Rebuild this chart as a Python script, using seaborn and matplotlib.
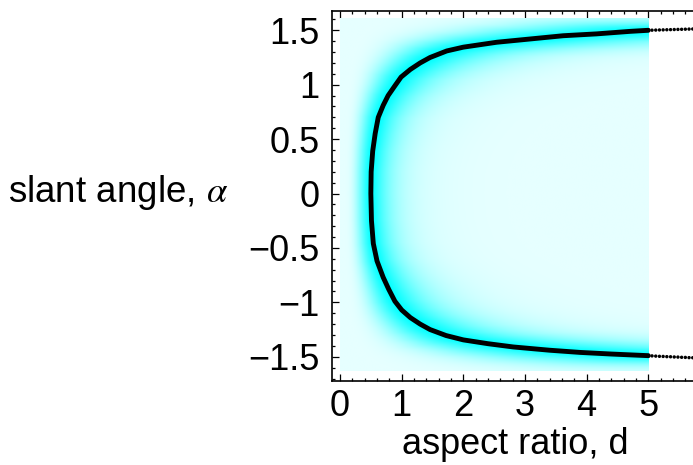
import numpy as np
import matplotlib
matplotlib.use("Agg")
import matplotlib.pyplot as plt
import seaborn as sns
from matplotlib.colors import LinearSegmentedColormap

# curve: slant angle vs aspect ratio
curve_alpha = [-1.49, -1.475, -1.46, -1.44, -1.41, -1.38, -1.345, -1.305, -1.25, -1.20,
               -1.14, -1.07, -0.99, -0.88, -0.77, -0.62, -0.46, -0.25, 0.0, 0.2,
               0.39, 0.55, 0.70, 0.81, 0.90, 0.99, 1.07, 1.14, 1.20, 1.25,
               1.31, 1.345, 1.39, 1.42, 1.45, 1.467, 1.49, 1.50]
curve_d = [5.0, 4.4, 3.89, 3.4, 2.81, 2.4, 2.0, 1.72, 1.46, 1.30,
           1.14, 1.0, 0.89, 0.79, 0.70, 0.60, 0.54, 0.51, 0.50, 0.505,
           0.53, 0.57, 0.62, 0.70, 0.78, 0.89, 0.99, 1.14, 1.30, 1.46,
           1.73, 2.0, 2.54, 3.08, 3.62, 4.16, 4.70, 5.0]

# dotted continuation beyond d = 5
tail_d = [5.0, 5.06, 5.12, 5.18, 5.24, 5.30, 5.36, 5.42, 5.48, 5.54, 5.60, 5.66, 5.72, 5.78]
tail_alpha_top = [1.500, 1.501, 1.502, 1.503, 1.504, 1.505, 1.506, 1.507, 1.508,
                  1.509, 1.510, 1.511, 1.512, 1.513]
tail_alpha_bot = [-1.490, -1.492, -1.494, -1.496, -1.497, -1.499, -1.500, -1.502,
                  -1.503, -1.505, -1.506, -1.508, -1.509, -1.511]

# background density (rendered from distance to the curve)
d_grid = np.linspace(0.005, 5.0, 500)
a_grid = np.linspace(-1.63, 1.61, 400)
D, A = np.meshgrid(d_grid, a_grid)
n = len(curve_alpha)
ca = np.interp(np.linspace(0, n - 1, 1000), np.arange(n), curve_alpha)
cd = np.interp(np.linspace(0, n - 1, 1000), np.arange(n), curve_d)
dist = np.full(D.shape, np.inf)
for a0, d0 in zip(ca, cd):
    r = ((np.log(D) - np.log(d0)) / 0.5) ** 2 + ((A - a0) / 0.08) ** 2
    dist = np.minimum(dist, r)
intensity = np.exp(-0.9 * dist ** 0.75)

sns.set_theme(style="ticks")
plt.rcParams['font.family'] = ['Liberation Sans', 'DejaVu Sans']
plt.rcParams['mathtext.fontset'] = 'stix'
plt.rcParams['axes.unicode_minus'] = True

fig = plt.figure(figsize=(6.93, 4.65), dpi=100)
ax = fig.add_axes([332 / 693, 1 - 380.7 / 465, (710 - 332) / 693, 370 / 465])

cmap = LinearSegmentedColormap.from_list("cy", ["#e6ffff", "#00ffff"])
ax.imshow(intensity, extent=[0, 5, -1.63, 1.61], origin='lower', aspect='auto',
          cmap=cmap, vmin=0, vmax=1, interpolation='bilinear', zorder=1)

sns.lineplot(x=curve_d, y=curve_alpha, sort=False, estimator=None, color='black',
             lw=3.5, ax=ax, zorder=3)
sns.scatterplot(x=tail_d + tail_d, y=tail_alpha_top + tail_alpha_bot, color='black',
                s=6, edgecolor='none', ax=ax, zorder=4)

ax.set_xlim(-0.13, 6.0)
ax.set_ylim(-1.72, 1.68)
ax.set_xticks([0, 1, 2, 3, 4, 5])
ax.set_yticks([-1.5, -1, -0.5, 0, 0.5, 1, 1.5])
ax.set_xticklabels(['0', '1', '2', '3', '4', '5'])
ax.set_yticklabels(['\u22121.5', '\u22121', '\u22120.5', '0', '0.5', '1', '1.5'])
ax.set_xticks(np.arange(0, 6.01, 0.2), minor=True)
ax.set_yticks(np.arange(-1.7, 1.61, 0.1), minor=True)
ax.tick_params(which='both', direction='in', top=True, right=True, width=0.9,
               color='black', labelsize=26, labelcolor='black')
ax.tick_params(which='major', length=5)
ax.tick_params(which='minor', length=2.5)
ax.tick_params(axis='y', pad=9)
ax.tick_params(axis='x', pad=6)
for s in ax.spines.values():
    s.set_linewidth(1.2)
    s.set_color('black')

ax.set_xlabel('aspect ratio, d', fontsize=26, color='black')
ax.xaxis.set_label_coords((515 - 332) / (710 - 332), -0.125)
fig.text(228 / 693, 1 - 192 / 465, r'slant angle, $\alpha$', fontsize=26.5,
         ha='right', va='center', color='black')

fig.savefig('out.png', dpi=100)
